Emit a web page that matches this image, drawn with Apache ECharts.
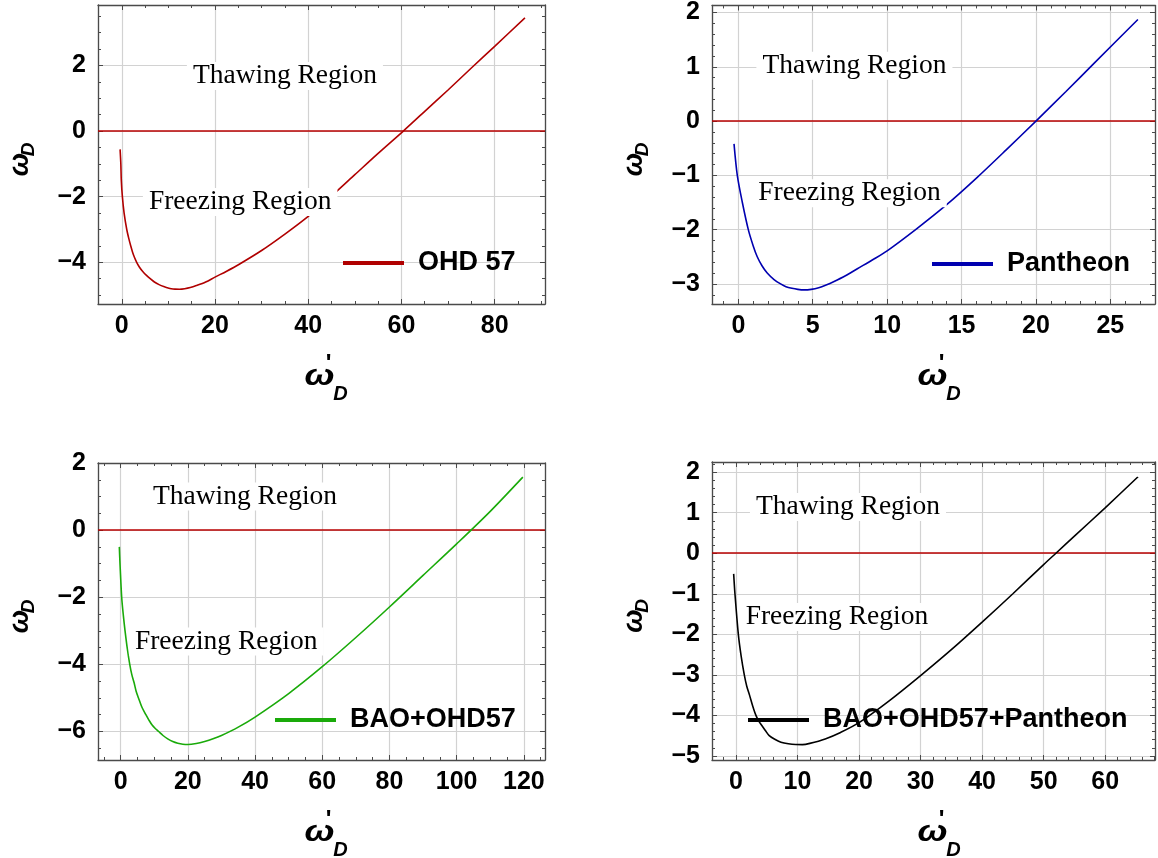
<!DOCTYPE html>
<html>
<head>
<meta charset="utf-8">
<script src="https://cdn.jsdelivr.net/npm/echarts@6/dist/echarts.min.js"></script>
<style>
  html, body { margin: 0; padding: 0; background: #fff; }
  #chart { width: 1158px; height: 858px; }
</style>
</head>
<body>
<div id="chart"></div>
<script>
// ω'_D (horizontal) against ω_D (vertical) for four data combinations

// OHD 57
const ohdX = [-0.36, -0.2, -0.1, 0.13, 0.5, 1.07, 1.5, 1.93, 2.5, 3.2, 3.8, 4.5, 5.3, 6.1, 7, 8, 9, 9.8, 10.6, 11.4, 12.4, 13.5, 14.7, 16, 18, 20, 22.5, 25.3, 30, 35, 40, 45, 50, 55, 60.4, 65, 70, 75, 80, 86.5];
const ohdY = [-0.56, -1.0, -1.5, -2.0, -2.5, -3.0, -3.27, -3.5, -3.77, -4.0, -4.15, -4.28, -4.4, -4.5, -4.6, -4.68, -4.74, -4.775, -4.805, -4.818, -4.82, -4.805, -4.77, -4.71, -4.6, -4.45, -4.27, -4.05, -3.64, -3.14, -2.6, -1.98, -1.33, -0.68, 0, 0.6, 1.25, 1.92, 2.58, 3.45];

// Pantheon
const panX = [-0.29, -0.07, 0.27, 0.67, 1.0, 1.27, 1.6, 1.94, 2.4, 2.84, 3.2, 3.6, 4.0, 4.4, 4.9, 5.4, 5.9, 6.4, 7.2, 8, 9, 10, 12, 14, 16, 18, 20, 22, 24, 26.85];
const panY = [-0.42, -1.0, -1.5, -2.0, -2.3, -2.5, -2.67, -2.8, -2.92, -3.0, -3.05, -3.08, -3.1, -3.11, -3.1, -3.07, -3.02, -2.96, -2.85, -2.72, -2.56, -2.39, -1.98, -1.54, -1.05, -0.53, 0, 0.54, 1.09, 1.87];

// BAO+OHD57
const baoX = [-0.4, -0.2, 0.3, 0.8, 1.3, 2.0, 2.7, 3.3, 4.0, 4.6, 5.3, 6.3, 7.5, 8.4, 9.3, 10.3, 11.3, 12.6, 14, 15.5, 17, 18.5, 20, 22.5, 25, 27.5, 30, 35, 40, 50, 60, 70, 80, 90, 100, 110, 119.7];
const baoY = [-0.5, -1.0, -2.0, -2.55, -3.0, -3.55, -4.0, -4.3, -4.55, -4.8, -5.0, -5.27, -5.5, -5.66, -5.8, -5.91, -6.0, -6.12, -6.22, -6.3, -6.35, -6.38, -6.39, -6.36, -6.3, -6.22, -6.12, -5.87, -5.57, -4.87, -4.07, -3.2, -2.29, -1.35, -0.41, 0.56, 1.58];

// BAO+OHD57+Pantheon
const allX = [-0.38, -0.17, 0.38, 0.85, 1.35, 1.75, 2.2, 2.7, 3.24, 3.7, 4.2, 4.8, 5.4, 6.3, 7.3, 8.5, 9.7, 10.8, 12, 14.5, 17, 20, 25, 30, 35, 40, 45, 50, 52, 55, 60, 65.3];
const allY = [-0.51, -1.0, -2.0, -2.55, -3.0, -3.28, -3.5, -3.76, -4.0, -4.14, -4.25, -4.38, -4.5, -4.59, -4.66, -4.7, -4.718, -4.72, -4.69, -4.58, -4.42, -4.18, -3.63, -3.02, -2.38, -1.7, -1.0, -0.28, 0, 0.42, 1.12, 1.88];

const seriesNames = ['OHD 57', 'Pantheon', 'BAO+OHD57', 'BAO+OHD57+Pantheon'];
const seriesX = [ohdX, panX, baoX, allX];
const seriesY = [ohdY, panY, baoY, allY];

// axis ranges, major steps and minor subdivisions
const xRanges = [[-5.1, 90.8], [-1.77, 28.0], [-6.75, 126.3], [-3.9, 68.1]];
const yRanges = [[-5.27, 3.84], [-3.37, 2.13], [-6.85, 2.0], [-5.1, 2.25]];
const xSteps = [20, 5, 20, 10];
const ySteps = [2, 1, 2, 1];
const xMinor = [4, 5, 4, 5];
const yMinor = [4, 5, 4, 5];

// region annotations, anchored in data coordinates
const regionNames = ['Thawing Region', 'Freezing Region'];
const thawingAt = [[35.0, 1.68], [7.8, 1.02], [37.0, 1.0], [18.2, 1.14]];
const freezingAt = [[25.4, -2.16], [7.47, -1.33], [31.4, -3.32], [16.4, -1.57]];
const zeroLevel = 0;

// styling
const curveColors = ['#b00000', '#0000b0', '#1aaa0a', '#000000'];
const zeroColor = '#b80000';
const sansFont = "'Liberation Sans', Arial, Helvetica, sans-serif";
const serifFont = "'Liberation Serif', 'Times New Roman', serif";

const boxes = [
  { left: 98, top: 5, width: 447, height: 299 },
  { left: 712, top: 5, width: 445, height: 299 },
  { left: 98, top: 463, width: 447, height: 297 },
  { left: 712, top: 462, width: 445, height: 298 }
];
const legendPos = [
  { left: 343, mid: 263 },
  { left: 932, mid: 264 },
  { left: 275, mid: 720 },
  { left: 748, mid: 720 }
];

function tickText(step) {
  return function (v) {
    const k = v / step;
    if (Math.abs(k - Math.round(k)) > 1e-6) return '';
    const r = Math.round(k) * step;
    return r < 0 ? '\u2212' + Math.abs(r) : String(r);
  };
}

function makeAxis(gridIndex, range, step, minor, position, isMain) {
  return {
    type: 'value',
    gridIndex: gridIndex,
    position: position,
    min: range[0],
    max: range[1],
    minInterval: step,
    maxInterval: step,
    splitNumber: 5,
    axisLine: { show: true, onZero: false, lineStyle: { color: '#4a4a4a', width: 1.3 } },
    axisTick: { show: true, inside: true, length: 5, lineStyle: { color: '#4a4a4a', width: 1 } },
    minorTick: { show: true, splitNumber: minor, length: 3, lineStyle: { color: '#4a4a4a', width: 1 } },
    axisLabel: {
      show: isMain,
      formatter: tickText(step),
      fontFamily: sansFont,
      fontWeight: 'bold',
      fontSize: 25,
      color: '#000',
      margin: (position === 'bottom') ? 10 : 12
    },
    splitLine: { show: isMain, lineStyle: { color: '#d2d2d2', width: 1.2 } },
    minorSplitLine: { show: false }
  };
}

const grids = [], xAxes = [], yAxes = [], series = [], legends = [], graphics = [];

boxes.forEach(function (b, i) {
  grids.push({ left: b.left, top: b.top, width: b.width, height: b.height, containLabel: false });
  xAxes.push(makeAxis(i, xRanges[i], xSteps[i], xMinor[i], 'bottom', true));
  xAxes.push(makeAxis(i, xRanges[i], xSteps[i], xMinor[i], 'top', false));
  yAxes.push(makeAxis(i, yRanges[i], ySteps[i], yMinor[i], 'left', true));
  yAxes.push(makeAxis(i, yRanges[i], ySteps[i], yMinor[i], 'right', false));

  const pts = seriesX[i].map(function (x, k) { return [x, seriesY[i][k]]; });
  series.push({
    name: seriesNames[i],
    type: 'line',
    xAxisIndex: 2 * i,
    yAxisIndex: 2 * i,
    data: pts,
    showSymbol: false,
    smooth: 0.3,
    color: curveColors[i],
    itemStyle: { color: curveColors[i] },
    lineStyle: { color: curveColors[i], width: 1.6 },
    z: 3,
    markLine: {
      silent: true,
      symbol: ['none', 'none'],
      label: { show: false },
      lineStyle: { color: zeroColor, width: 1.6, type: 'solid' },
      data: [{ yAxis: zeroLevel }],
      z: 2
    },
    markPoint: {
      silent: true,
      symbol: 'rect',
      symbolSize: 1,
      itemStyle: { color: 'rgba(0,0,0,0)' },
      z: 10,
      label: {
        show: true,
        position: 'inside',
        formatter: function (p) { return p.name; },
        fontFamily: serifFont,
        fontSize: 27.5,
        color: '#000',
        backgroundColor: '#fff',
        padding: [0, 6],
        lineHeight: 28
      },
      data: [
        { name: regionNames[0], coord: thawingAt[i] },
        { name: regionNames[1], coord: freezingAt[i] }
      ]
    }
  });

  legends.push({
    data: [seriesNames[i]],
    left: legendPos[i].left,
    top: legendPos[i].mid - 14,
    padding: 0,
    icon: 'rect',
    itemWidth: 61,
    itemHeight: 4,
    selectedMode: false,
    textStyle: {
      fontFamily: sansFont,
      fontWeight: 'bold',
      fontSize: 27,
      color: '#000',
      lineHeight: 28,
      padding: [0, 0, 0, 9]
    }
  });

  // horizontal axis title: ω with a prime and subscript D
  const cx = b.left + b.width / 2;
  const cy = b.top + b.height + 74;
  graphics.push({
    type: 'group',
    x: cx, y: cy,
    children: [
      { type: 'text', x: -2, y: -1, scaleX: 1.2,
        style: { text: '\u03c9', font: 'italic bold 30px ' + sansFont, fill: '#000', align: 'center', verticalAlign: 'middle' } },
      { type: 'text', x: 7, y: -14,
        style: { text: "'", font: 'bold 24px ' + sansFont, fill: '#000', align: 'center', verticalAlign: 'middle' } },
      { type: 'text', x: 19, y: 16,
        style: { text: 'D', font: 'italic bold 20px ' + sansFont, fill: '#000', align: 'center', verticalAlign: 'middle' } }
    ]
  });

  // vertical axis title: ω with subscript D, reading upward
  graphics.push({
    type: 'group',
    x: b.left - 78,
    y: b.top + b.height / 2 + 10,
    rotation: Math.PI / 2,
    children: [
      { type: 'text', x: 0, y: 0,
        style: { text: '\u03c9', font: 'italic bold 28px ' + sansFont, fill: '#000', align: 'center', verticalAlign: 'middle' } },
      { type: 'text', x: 15, y: 9,
        style: { text: 'D', font: 'italic bold 19px ' + sansFont, fill: '#000', align: 'center', verticalAlign: 'middle' } }
    ]
  });
});

const chart = echarts.init(document.getElementById('chart'), null, { renderer: 'canvas' });
chart.setOption({
  animation: false,
  backgroundColor: '#fff',
  grid: grids,
  xAxis: xAxes,
  yAxis: yAxes,
  legend: legends,
  series: series,
  graphic: graphics
});
</script>
</body>
</html>
